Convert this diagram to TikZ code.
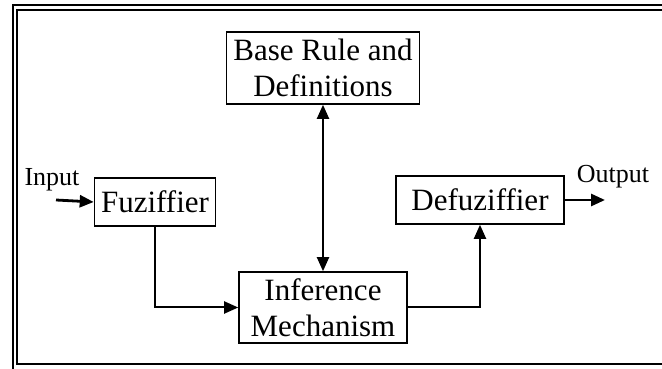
\documentclass[tikz,border=0pt]{standalone}
\usepackage{fontspec}
\setmainfont{Liberation Serif}
\usetikzlibrary{arrows.meta}

\begin{document}
\begin{tikzpicture}[x=1pt,y=1pt,
        block/.style={draw,line width=1.6pt,align=center,inner sep=0pt,
            font=\fontsize{31}{36}\selectfont},
        link/.style={line width=2pt,-{Triangle[length=14pt,width=12pt]}},
        label/.style={font=\fontsize{26}{28}\selectfont}]
        \useasboundingbox (0, 0) rectangle (662, 369);
        \clip (0, 0) rectangle (662, 369);
        % double frame
        \draw[line width=2pt] (13, 363.5) rectangle (690, -20);
        \draw[line width=1.7pt] (17, 359) rectangle (686, 5);
        % blocks
        \node[block,minimum width=193,minimum height=72] (rules) at (323, 301) {Base Rule and\\Definitions};
        \node[block,minimum width=121,minimum height=48] (fuzz) at (155, 167) {Fuziffier};
        \node[block,minimum width=168,minimum height=48] (defuzz) at (480, 169) {Defuziffier};
        \node[block,minimum width=168,minimum height=71] (infer) at (323, 61.5) {Inference\\Mechanism};
        % inputs and outputs
        \node[label] (in) at (52, 189) {Input};
        \node[label] (out) at (613, 192) {Output};
        \coordinate (instart) at (56, 169);
        \coordinate (outend) at (605, 169);
        % links
        \draw[link,line width=2.8pt] (instart) -- (fuzz.west);
        \draw[link,line width=2.8pt] (defuzz.east) -- (outend);
        \draw[link] (fuzz.south) |- (infer.west);
        \draw[link] (infer.east) -| (defuzz.south);
        \draw[link,{Triangle[length=14pt,width=12pt]}-{Triangle[length=14pt,width=12pt]}] (rules.south) -- (infer.north);
    \end{tikzpicture}
\end{document}
